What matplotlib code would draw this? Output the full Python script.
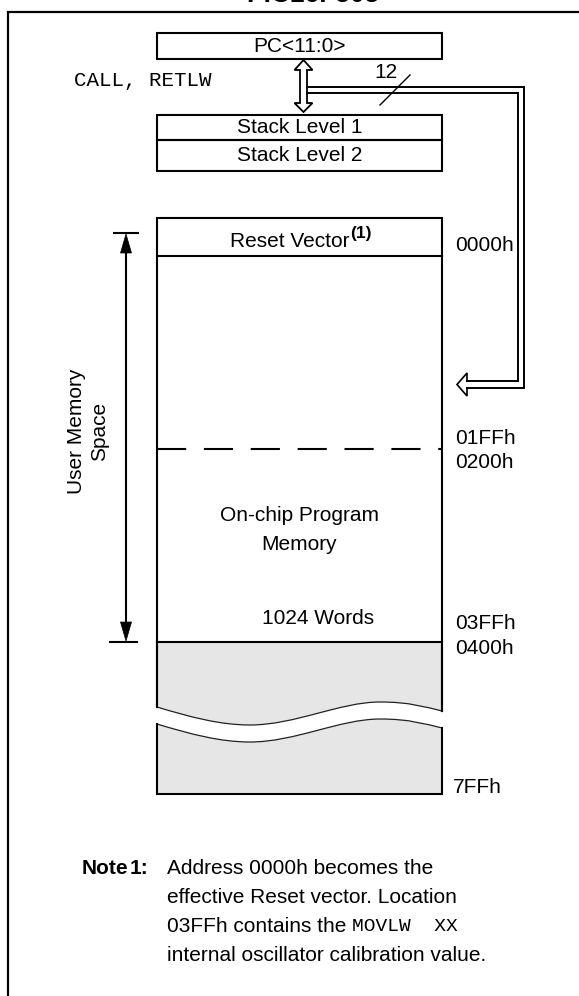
import matplotlib
matplotlib.use("Agg")
import matplotlib.pyplot as plt
from matplotlib.path import Path
from matplotlib.patches import PathPatch, Polygon, Rectangle

# ---------------- content ----------------
title = "PIC16F505"
pc_label = "PC<11:0>"
call_label = "CALL, RETLW"
bus_width = "12"
stack_labels = ["Stack Level 1", "Stack Level 2"]
reset_label = "Reset Vector"
reset_note = "(1)"
memory_labels = ["On-chip Program", "Memory"]
words_label = "1024 Words"
space_labels = ["User Memory", "Space"]
addr_labels = ["0000h", "01FFh", "0200h", "03FFh", "0400h", "7FFh"]
note_head = ["Note", "1:"]
note_lines = ["Address 0000h becomes the",
              "effective Reset vector. Location",
              "03FFh contains the ",
              "internal oscillator calibration value."]
note_mono = "MOVLW  XX"

# ---------------- layout (pixels, y downward) ----------------
W, H = 579, 996
SANS = "Liberation Sans"
MONO = "Liberation Mono"
FS = 15
LW = 1.5
GRAY = "#e6e6e6"

fig = plt.figure(figsize=(W / 100, H / 100), dpi=100)
ax = fig.add_axes([0, 0, 1, 1])
ax.set_xlim(0, W)
ax.set_ylim(H, 0)
ax.axis("off")

def line(xs, ys, lw=LW, **kw):
    ax.plot(xs, ys, color="black", lw=lw, solid_capstyle="projecting",
            solid_joinstyle="miter", **kw)

def txt(x, y, s, **kw):
    kw.setdefault("family", SANS)
    kw.setdefault("fontsize", FS)
    kw.setdefault("ha", "center")
    kw.setdefault("va", "center")
    ax.text(x, y, s, color="black", **kw)

# frame and clipped title
line([8, 8, W + 5], [H + 5, 12, 12], lw=1.6)
ax.text(313, 2, title, family=SANS, fontsize=19, fontweight="bold",
        ha="center", va="baseline", clip_on=False)

# PC box
BX0, BX1 = 157, 442
ax.add_patch(Rectangle((BX0, 33), BX1 - BX0, 26, fill=False, lw=LW))
txt((BX0 + BX1) / 2, 46, pc_label)

# stack boxes
stack_y = [(115, 140), (140, 171)]
for (y0, y1), lab in zip(stack_y, stack_labels):
    ax.add_patch(Rectangle((BX0, y0), BX1 - BX0, y1 - y0, fill=False, lw=LW))
    txt((BX0 + BX1) / 2, (y0 + y1) / 2, lab)

txt(74, 80, call_label, family=MONO, ha="left")

# hollow double arrow between PC and stack
ax0 = 303.5
arr = [(ax0, 60), (ax0 + 9, 70), (ax0 + 3.5, 70), (ax0 + 3.5, 103),
       (ax0 + 9, 103), (ax0, 112), (ax0 - 9, 103), (ax0 - 3.5, 103),
       (ax0 - 3.5, 70), (ax0 - 9, 70)]
ax.add_patch(Polygon(arr, closed=True, facecolor="white", edgecolor="black",
                     lw=1.3, joinstyle="miter"))

# bus to memory (double line with hollow arrow head)
line([307, 524, 524, 467], [87, 87, 388, 388], lw=1.4)
line([307, 518, 518, 467], [93, 93, 381, 381], lw=1.4)
head = [(467, 381), (467, 373), (457, 384.5), (467, 396), (467, 388)]
ax.plot([p[0] for p in head], [p[1] for p in head], color="black", lw=1.2,
        solid_joinstyle="miter")
line([380, 410], [105, 75], lw=1.0)
txt(386, 72, bus_width)

# memory box
TOP, ROW, DASH, DIV = 218, 256, 449, 642
line([BX0, BX0, BX1, BX1], [707, TOP, TOP, 711])
line([BX0, BX1], [ROW, ROW])
line([BX0, BX1], [DIV, DIV])
ax.plot([BX0, BX1], [DASH, DASH], color="black", lw=LW,
        linestyle=(0, (14, 8.5)))

# wavy break and gray fill
def wave(dy):
    verts = [(157, 707 + dy),
             (190, 717 + dy), (220, 725 + dy), (250, 725 + dy),
             (295, 725 + dy), (340, 702 + dy), (380, 702 + dy),
             (410, 702 + dy), (425, 707 + dy), (442, 711 + dy)]
    return verts

CODES_W = [Path.MOVETO] + [Path.CURVE4] * 9
w1 = wave(0)
w2 = wave(17)
up_verts = [(BX0, DIV), (BX1, DIV)] + w1[::-1] + [(BX0, DIV)]
up_codes = [Path.MOVETO, Path.LINETO, Path.LINETO] + [Path.CURVE4] * 9 + [Path.CLOSEPOLY]
ax.add_patch(PathPatch(Path(up_verts, up_codes), facecolor=GRAY, edgecolor="none"))
lo_verts = w2 + [(BX1, 794), (BX0, 794), (BX0, 724)]
lo_codes = CODES_W + [Path.LINETO, Path.LINETO, Path.CLOSEPOLY]
ax.add_patch(PathPatch(Path(lo_verts, lo_codes), facecolor=GRAY, edgecolor="none"))
ax.add_patch(PathPatch(Path(w1, CODES_W), facecolor="none", edgecolor="#222222", lw=0.9))
ax.add_patch(PathPatch(Path(w2, CODES_W), facecolor="none", edgecolor="#222222", lw=0.9))
line([BX0, BX0], [DIV, 707])
line([BX1, BX1], [DIV, 711])
line([BX0, BX0, BX1, BX1], [724, 794, 794, 728])

# texts inside memory
ax.text(349, 247, reset_label, family=SANS, fontsize=FS, ha="right", va="baseline")
ax.text(350, 238, reset_note, family=SANS, fontsize=12.5, fontweight="bold",
        ha="left", va="baseline")
ax.text(299, 521, memory_labels[0], family=SANS, fontsize=FS, ha="center", va="baseline")
ax.text(299, 550, memory_labels[1], family=SANS, fontsize=FS, ha="center", va="baseline")
txt(318, 618, words_label)

# addresses
addr_pos = [(455, 245), (455, 438), (455, 462), (455, 623), (455, 648), (453, 787)]
for (x, y), lab in zip(addr_pos, addr_labels):
    txt(x, y, lab, ha="left")

# user memory space dimension arrow
line([114, 138], [233, 233], lw=1.5)
line([110, 137], [642, 642], lw=1.5)
ax.plot([126, 126], [245, 630], color="black", lw=1.5)
ax.add_patch(Polygon([(126, 234), (120.5, 253), (131.5, 253)], closed=True,
                     facecolor="black", edgecolor="black", lw=0.5))
ax.add_patch(Polygon([(126, 641), (120.5, 622), (131.5, 622)], closed=True,
                     facecolor="black", edgecolor="black", lw=0.5))
ax.text(82, 431, space_labels[0], family=SANS, fontsize=FS, rotation=90,
        rotation_mode="anchor", ha="center", va="baseline")
ax.text(105, 431, space_labels[1], family=SANS, fontsize=FS, rotation=90,
        rotation_mode="anchor", ha="center", va="baseline")

# note
note_y = [868, 897, 926, 955]
ax.text(82, note_y[0], note_head[0], family=SANS, fontsize=FS, fontweight="bold",
        ha="left", va="center")
ax.text(130, note_y[0], note_head[1], family=SANS, fontsize=FS, fontweight="bold",
        ha="left", va="center")
for y, s in zip(note_y, note_lines):
    t = ax.text(167, y, s, family=SANS, fontsize=FS, ha="left", va="center")
    if s.endswith(" ") and note_mono:
        fig.canvas.draw()
        bb = t.get_window_extent()
        x_end = ax.transData.inverted().transform((bb.x1, bb.y0))[0]
        ax.text(x_end, y, note_mono, family=MONO, fontsize=14, ha="left", va="center")

fig.savefig("out.png", dpi=100)
